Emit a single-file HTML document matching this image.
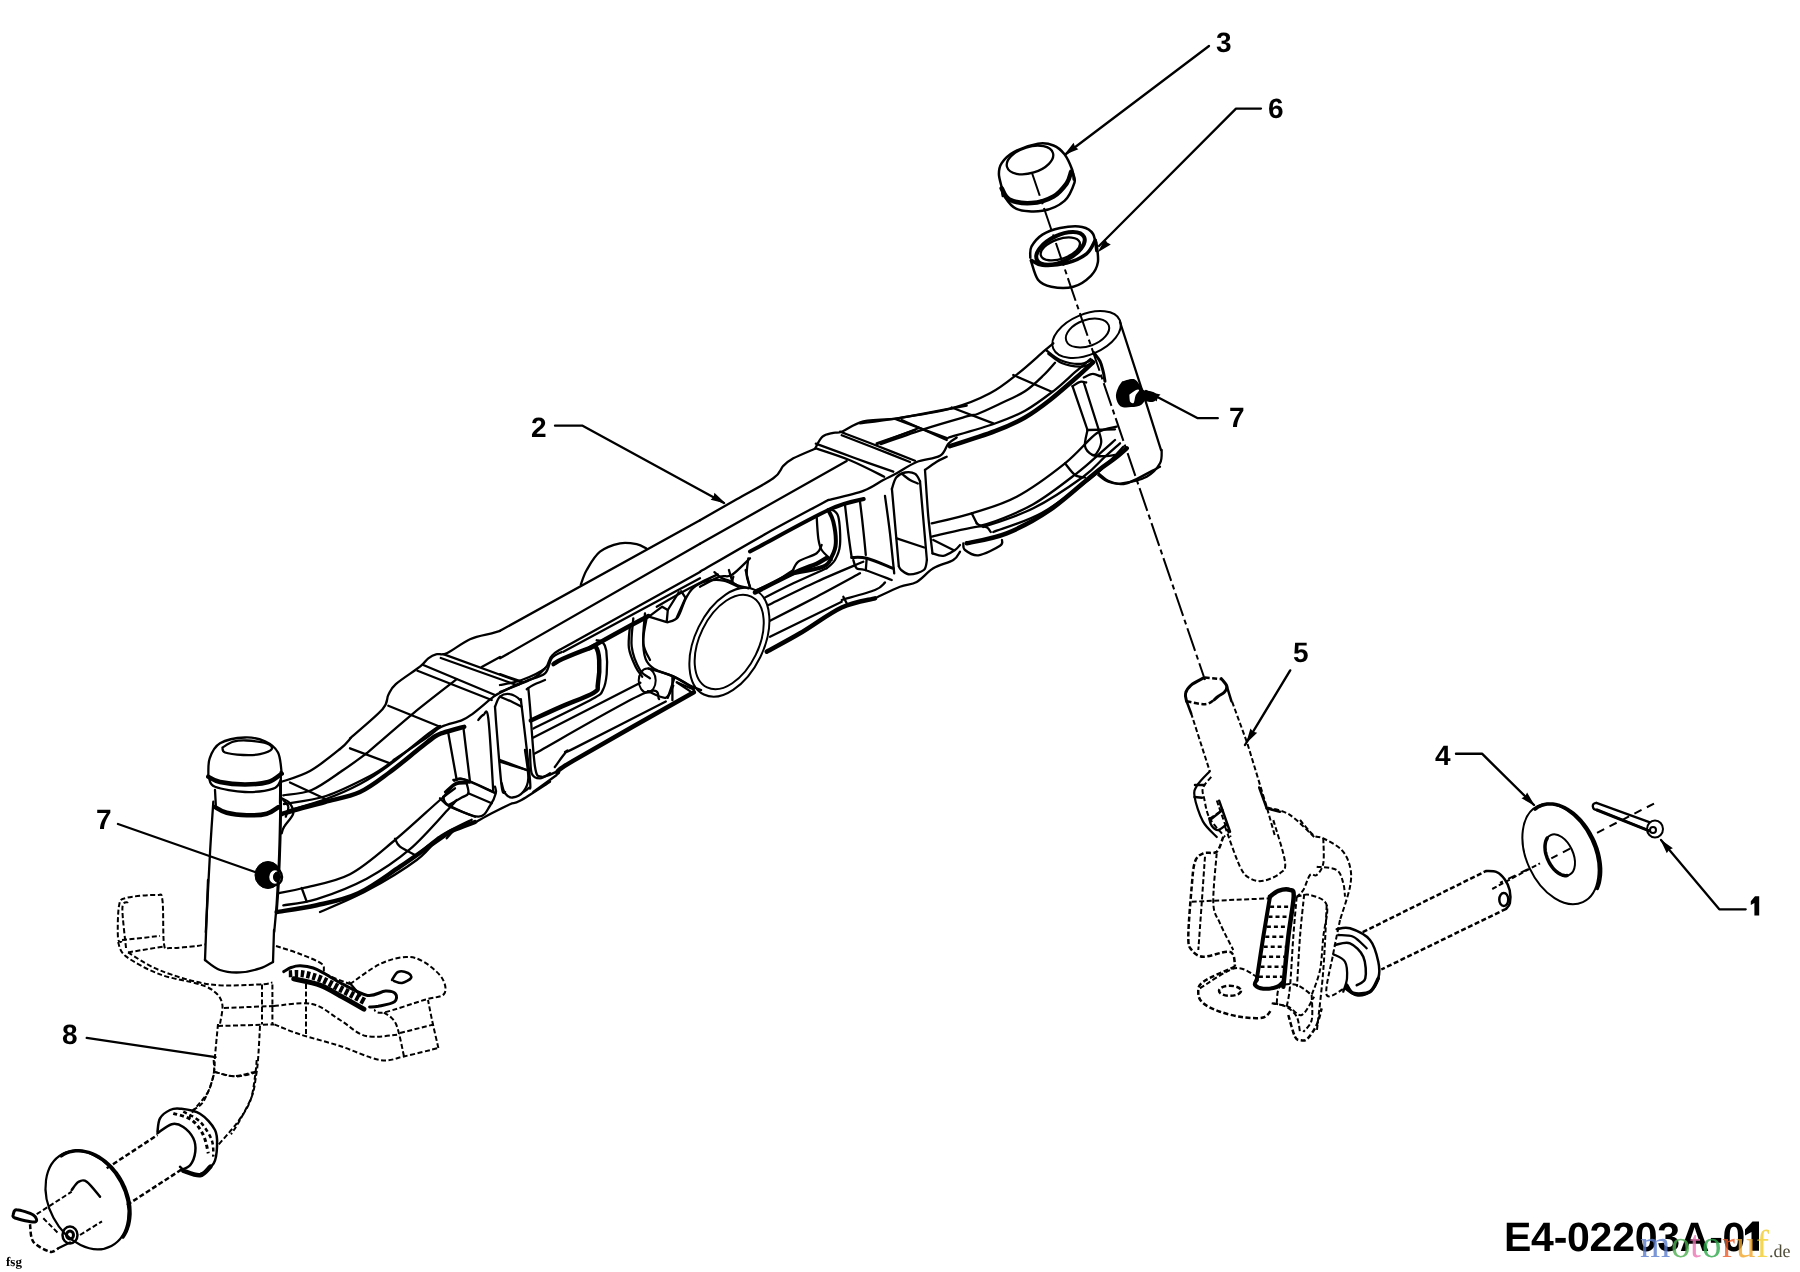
<!DOCTYPE html>
<html><head><meta charset="utf-8"><style>
html,body{margin:0;padding:0;background:#fff;width:1800px;height:1272px;overflow:hidden}
svg{display:block}
text{text-rendering:geometricPrecision}
.l{fill:none;stroke:#000;stroke-width:2.3;stroke-linecap:round;stroke-linejoin:round}
.d{fill:none;stroke:#000;stroke-width:2.3;stroke-linecap:butt}
.n{font-family:"Liberation Sans",sans-serif;font-weight:bold;font-size:28px;fill:#000}
</style></head><body>
<svg width="1800" height="1272" viewBox="0 0 1800 1272" style="will-change:transform">
<rect width="1800" height="1272" fill="#fff"/>
<g class="n">
<text x="1216" y="52">3</text>
<text x="1268" y="118">6</text>
<text x="531" y="437">2</text>
<text x="1229" y="427">7</text>
<text x="1293" y="662">5</text>
<text x="1435" y="765">4</text>
<text x="96" y="829">7</text>
<text x="62" y="1044">8</text>
</g>
<text x="1504" y="1251" style="letter-spacing:-0.25px;font-family:'Liberation Sans',sans-serif;font-weight:bold;font-size:41px;fill:#000">E4-02203A-0</text>
<text x="6" y="1266" style="font-family:'Liberation Serif',serif;font-weight:bold;font-size:13px;fill:#000">fsg</text>
<path class="l" d="M1209,46 L1066,154" />
<path d="M1064.0,155.0 L1073.6,142.8 L1075.0,146.7 L1078.4,149.2 Z" fill="#000"/>
<path class="l" d="M1261,108.6 L1236,108.6 L1099,246" />
<path d="M1097.5,252.5 L1105.0,238.9 L1107.1,242.6 L1110.8,244.5 Z" fill="#000"/>
<path class="l" d="M555,425.7 L582.6,425.7 L724,503" />
<path d="M725.7,503.5 L710.6,499.8 L713.6,496.9 L714.4,492.8 Z" fill="#000"/>
<path class="l" d="M1217.8,418.2 L1197.8,418.2 L1146,391" />
<path d="M1145.3,391.1 L1160.5,394.4 L1157.6,397.4 L1156.8,401.5 Z" fill="#000"/>
<path class="l" d="M1290.2,670.4 L1245,745" style="stroke-width:2.4;"/>
<path class="l" d="M1456,753.7 L1482,753.7 L1534,805" style="stroke-width:2.4;"/>
<path d="M1535.0,806.0 L1521.5,798.3 L1525.2,796.3 L1527.1,792.6 Z" fill="#000"/>
<path class="l" d="M1745.7,909.3 L1719.3,909.3 L1661,840" />
<path d="M1660.2,839.3 L1672.9,848.2 L1669.1,849.8 L1666.8,853.3 Z" fill="#000"/>
<path class="l" d="M118,824 L255,872" />
<path class="l" d="M86.7,1037.8 L215.6,1057.2" />
<path d="M1754.4,896.2 L1759.2,896.2 L1759.2,915.5 L1754.4,915.5 L1754.4,903 L1750.8,905 L1750.8,901.2 L1755,896.2 Z" style="fill:#000"/>
<path d="M1751.5,1221.5 L1759,1221.5 L1759,1250.7 L1751.5,1250.7 L1751.5,1232 L1745,1235.5 L1745,1229.5 L1752.5,1221.5 Z" style="fill:#000"/>
<path class="l" d="M1001.7,187.3 C1001.3,185.1 998.9,178.1 998.9,174.1 C998.9,170.0 999.2,166.7 1001.7,163.1 C1004.2,159.4 1007.8,155.3 1013.8,152.1 C1019.9,148.8 1031.4,144.8 1038.0,143.7 C1044.7,142.6 1049.1,143.7 1053.5,145.5 C1057.9,147.2 1061.3,150.2 1064.5,154.3 C1067.6,158.3 1070.6,165.5 1072.2,169.7 C1073.7,173.9 1073.4,177.9 1073.7,179.6" style="stroke-width:2.5;"/>
<ellipse class="l" cx="1030.0" cy="160.0" rx="24.0" ry="13.0" transform="rotate(-17.0 1030.0 160.0)" style="stroke-width:2.3;fill:none;"/>
<path class="l" d="M1001.7,188.4 C1003.0,190.2 1004.5,196.9 1009.4,199.4 C1014.4,201.9 1024.1,203.6 1031.4,203.1 C1038.8,202.7 1047.6,199.8 1053.5,196.5 C1059.3,193.2 1063.7,187.4 1066.7,183.3 C1069.6,179.2 1070.3,173.8 1071.1,171.9" style="stroke-width:4.5;"/>
<path class="l" d="M1002.8,193.9 C1005.0,196.4 1009.4,205.8 1016.0,208.6 C1022.6,211.5 1034.4,212.1 1042.4,210.8 C1050.5,209.6 1059.1,205.6 1064.5,200.9 C1069.8,196.3 1072.9,187.4 1074.4,182.9 C1075.8,178.4 1073.4,175.6 1073.3,174.1" style="stroke-width:2.5;"/>
<path class="l" d="M1001.7,187.3 L1002.8,196.1" style="stroke-width:2.5;"/>
<path class="l" d="M1030.3,257.7 C1030.5,255.9 1029.4,250.6 1031.4,246.7 C1033.5,242.9 1037.7,237.7 1042.4,234.6 C1047.2,231.5 1053.5,229.3 1060.1,228.0 C1066.7,226.7 1076.6,225.9 1082.1,226.9 C1087.6,227.9 1090.7,229.9 1093.1,234.0 C1095.5,238.0 1095.8,248.3 1096.4,251.1" style="stroke-width:2.5;"/>
<ellipse class="l" cx="1060.5" cy="248.3" rx="26.2" ry="13.0" transform="rotate(-26.0 1060.5 248.3)" style="stroke-width:4;fill:none;"/>
<ellipse class="l" cx="1060.3" cy="248.9" rx="20.5" ry="9.9" transform="rotate(-19.0 1060.3 248.9)" style="stroke-width:2.3;fill:none;"/>
<path class="l" d="M1031.4,260.4 C1033.3,261.2 1036.6,264.8 1042.4,265.2 C1048.3,265.7 1059.3,264.9 1066.7,263.0 C1074.0,261.1 1081.7,257.6 1086.5,253.8 C1091.2,250.0 1093.8,242.4 1095.3,240.1" style="stroke-width:3.5;"/>
<path class="l" d="M1031.0,261.0 C1032.2,264.1 1034.7,275.4 1038.0,279.7 C1041.4,284.0 1045.4,285.6 1051.3,286.8 C1057.1,288.0 1066.7,288.6 1073.3,286.8 C1079.9,284.9 1086.8,279.9 1090.9,275.8 C1095.0,271.7 1097.0,267.7 1097.9,262.1 C1098.8,256.6 1096.6,245.6 1096.4,242.3" style="stroke-width:2.5;"/>
<path class="d" d="M1032,173 L1205,680" style="stroke-width:2;stroke-dasharray:24 4 5 4"/>
<ellipse class="l" cx="1560.5" cy="854.0" rx="34.0" ry="53.0" transform="rotate(-25.0 1560.5 854.0)" style="stroke-width:2;fill:none;"/>
<path class="l" d="M1535.1,809.2 L1537.2,807.6 L1539.5,806.3 L1541.9,805.2 L1544.5,804.5 L1547.1,804.0 L1549.9,803.9 L1552.7,804.0 L1555.6,804.5 L1558.5,805.2 L1561.5,806.3 L1564.4,807.6 L1567.4,809.2 L1570.3,811.1 L1573.1,813.2 L1575.9,815.6 L1578.7,818.2 L1581.3,821.0 L1583.8,824.1 L1586.2,827.3 L1588.4,830.6 L1590.5,834.2 L1592.4,837.8 L1594.2,841.5 L1595.7,845.3 L1597.1,849.2 L1598.2,853.0 L1599.1,856.9 L1599.8,860.8 L1600.3,864.6 L1600.6,868.4 L1600.6,872.1 L1600.4,875.6 L1599.9,879.1 L1599.3,882.4 L1598.4,885.5 L1597.3,888.4" style="stroke-width:3.5;"/>
<ellipse class="l" cx="1560.0" cy="855.0" rx="13.0" ry="22.0" transform="rotate(-25.0 1560.0 855.0)" style="stroke-width:2;fill:none;"/>
<path class="l" d="M1596.4,802.8 L1649.3,822.2 M1597,810 L1649.3,830.8 M1596.4,802.8 C1591,803 1592,810 1597,810" />
<path class="l" d="M1597,810 L1649.3,830.8" style="stroke-width:3;"/>
<ellipse class="l" cx="1655.0" cy="829.0" rx="8.0" ry="8.5" transform="rotate(0.0 1655.0 829.0)" style="stroke-width:2;fill:none;"/>
<ellipse class="l" cx="1653.0" cy="830.0" rx="3.0" ry="3.0" transform="rotate(0.0 1653.0 830.0)" style="stroke-width:2;fill:none;"/>
<path class="d" d="M1654.0,803.6 L1593.3,834.7" style="stroke-width:2;stroke-dasharray:8 6"/>
<path class="d" d="M1570.0,848.7 L1551.3,858.3" style="stroke-width:2;stroke-dasharray:8 6"/>
<path class="d" d="M1528.0,869.2 L1500.0,882.9" style="stroke-width:2;stroke-dasharray:8 6"/>
<path class="l" d="M1567.1,875.6 L1566.1,875.7 L1565.1,875.7 L1564.1,875.5 L1563.0,875.3 L1561.9,874.9 L1560.9,874.5 L1559.8,873.9 L1558.7,873.3 L1557.6,872.5 L1556.5,871.7 L1555.5,870.7 L1554.4,869.7 L1553.4,868.6 L1552.5,867.5 L1551.6,866.2 L1550.7,864.9 L1549.8,863.6 L1549.1,862.2 L1548.4,860.8 L1547.7,859.3 L1547.1,857.8 L1546.6,856.3 L1546.1,854.8 L1545.7,853.3 L1545.4,851.8 L1545.2,850.4 L1545.1,848.9 L1545.0,847.5 L1545.0,846.1 L1545.1,844.8 L1545.3,843.5 L1545.5,842.3 L1545.8,841.1 L1546.2,840.1 L1546.7,839.1 L1547.2,838.1" style="stroke-width:3.5;"/>
<path class="l" d="M700.0,520.3 C706.1,516.8 724.4,506.2 736.7,499.2 C748.9,492.2 765.6,483.9 773.3,478.3 C781.1,472.8 780.0,469.2 783.3,465.8 C786.7,462.5 788.1,461.2 793.3,458.3 C798.6,455.5 811.4,450.3 815.0,448.7" />
<path class="l" d="M815.0,448.7 C816.2,446.7 819.4,439.3 822.5,436.7 C825.6,434.0 830.1,433.7 833.3,432.8 C836.5,432.0 836.7,433.6 841.7,431.7 C846.7,429.8 854.3,423.5 863.3,421.3 C872.4,419.2 890.4,419.2 895.8,418.8" />
<path class="l" d="M895.8,418.8 L966.7,405.5" />
<path class="l" d="M700.0,543.7 L846.7,461.0" />
<path class="l" d="M815.8,443.7 C822.1,446.0 840.4,452.8 853.3,457.5 C866.2,462.2 886.7,469.3 893.3,471.7" />
<path class="l" d="M816.7,448.7 C822.2,450.6 838.8,455.7 850.0,460.3 C861.2,465.0 878.5,473.9 884.2,476.7" />
<path class="l" d="M840.0,431.7 C845.8,433.9 862.5,440.1 875.0,445.0 C887.5,449.9 908.3,458.2 915.0,460.8" />
<path class="l" d="M841.7,435.3 C846.9,437.4 861.9,443.1 873.3,447.5 C884.7,451.9 903.9,459.6 910.0,462.0" />
<path class="l" d="M876.7,444.2 L918.3,428.3" />
<path class="l" d="M901.7,420.0 L946.7,440.0" />
<path class="l" d="M700.0,571.7 C711.1,565.3 745.3,545.3 766.7,533.3 C788.1,521.4 818.1,505.6 828.3,500.0" />
<path class="l" d="M828.3,500.0 C834.2,498.5 854.2,494.2 863.3,490.8 C872.5,487.5 877.8,482.9 883.3,480.0 C888.9,477.1 891.1,476.3 896.7,473.3 C902.2,470.3 909.4,464.9 916.7,462.0 C923.9,459.1 934.7,458.9 940.0,455.8 C945.3,452.8 945.6,446.7 948.3,443.7 C951.1,440.6 955.3,438.5 956.7,437.5" />
<path class="l" d="M896.7,538.3 L924.2,547.5" />
<path class="l" d="M885.0,495.8 C885.8,502.1 888.5,520.4 890.0,533.3 C891.5,546.2 893.5,566.7 894.2,573.3" />
<path class="l" d="M925.0,470.0 C925.6,477.8 927.1,502.8 928.3,516.7 C929.6,530.6 931.8,547.2 932.5,553.3" />
<path class="l" d="M925.0,470.0 C926.9,468.6 933.1,463.9 936.7,461.7 C940.3,459.4 945.0,457.5 946.7,456.7" />
<path class="l" d="M932.5,553.3 C934.3,553.8 939.6,556.4 943.3,555.8 C947.1,555.3 952.2,551.8 955.0,550.0 C957.8,548.2 959.2,545.8 960.0,545.0" />
<path class="l" d="M750.0,551.5 C751.7,550.6 746.7,553.2 760.0,546.2 C773.3,539.1 812.7,517.2 830.0,509.3 C847.3,501.5 858.1,500.7 863.7,499.0" style="stroke-width:4;"/>
<path class="l" d="M816.7,516.7 C816.9,520.3 817.5,532.8 818.3,538.3 C819.2,543.9 819.4,546.4 821.7,550.0 C823.9,553.6 830.0,558.3 831.7,560.0" />
<path class="l" d="M828.2,510.0 C829.0,511.9 832.1,516.1 833.3,521.7 C834.6,527.2 836.1,537.5 835.8,543.3 C835.6,549.2 833.8,552.8 831.7,556.7 C829.6,560.6 829.7,563.9 823.3,566.7 C816.9,569.4 798.3,572.2 793.3,573.3" style="stroke-width:4;"/>
<path class="l" d="M830.8,509.2 C832.1,510.4 836.8,510.7 838.3,516.7 C839.9,522.6 840.6,537.8 840.0,545.0 C839.4,552.2 837.2,556.1 835.0,560.0 C832.8,563.9 828.1,566.9 826.7,568.3" />
<path class="l" d="M845.0,505.0 C845.6,509.7 847.2,524.6 848.3,533.3 C849.4,542.1 851.1,553.5 851.7,557.5" />
<path class="l" d="M860.0,501.7 C860.6,506.4 862.4,521.1 863.3,530.0 C864.3,538.9 865.4,550.8 865.8,555.0" />
<path class="l" d="M851.7,557.5 C854.2,557.6 859.7,556.5 866.7,558.3 C873.6,560.1 888.9,566.7 893.3,568.3" style="stroke-width:3;"/>
<path class="l" d="M853.3,560.0 C853.9,561.4 854.7,566.7 856.7,568.3 C858.6,570.0 859.2,568.1 865.0,570.0 C870.8,571.9 887.2,578.3 891.7,580.0" />
<path class="l" d="M866.7,558.3 L865.8,570.0" />
<path class="l" d="M700.0,586.7 C703.3,585.0 714.7,578.6 720.0,576.7 C725.3,574.7 726.7,578.1 731.7,575.0 C736.7,571.9 746.9,561.1 750.0,558.3" />
<path class="l" d="M733.3,576.7 C733.3,577.8 730.8,581.4 733.3,583.3 C735.8,585.3 745.8,587.5 748.3,588.3" />
<path class="l" d="M748.3,558.3 C748.1,561.1 746.4,570.3 746.7,575.0 C746.9,579.7 749.4,584.7 750.0,586.7" />
<path class="l" d="M891.9,488.8 L898.8,566.2" />
<path class="l" d="M891.9,488.8 C892.6,486.9 894.1,480.2 896.2,477.5 C898.4,474.8 901.9,473.1 905.0,472.5 C908.1,471.9 912.5,472.3 915.0,473.8 C917.5,475.2 919.2,480.0 920.0,481.2" />
<path class="l" d="M920.0,481.2 L926.9,560.0" />
<path class="l" d="M926.9,560.0 C926.4,561.7 926.6,567.6 923.8,570.0 C920.9,572.4 913.8,574.4 910.0,574.4 C906.2,574.4 903.1,571.4 901.2,570.0 C899.4,568.6 899.2,566.9 898.8,566.2" />
<path class="l" d="M902.5,474.4 C903.8,475.3 907.5,478.5 910.0,480.0 C912.5,481.5 916.5,482.9 917.8,483.5" />
<ellipse class="l" cx="1086.6" cy="334.5" rx="36.2" ry="20.2" transform="rotate(-23.0 1086.6 334.5)" style="stroke-width:2;fill:none;"/>
<ellipse class="l" cx="1087.5" cy="333.0" rx="22.6" ry="13.0" transform="rotate(-20.0 1087.5 333.0)" style="stroke-width:2;fill:none;"/>
<path class="l" d="M1120,322 L1143,393 L1161,450" />
<path class="l" d="M1046.0,350.0 C1048.3,351.7 1054.5,357.7 1060.0,360.0 C1065.5,362.3 1073.7,364.0 1079.0,364.0 C1084.3,364.0 1089.8,360.7 1092.0,360.0" />
<path class="l" d="M1048.3,353.7 C1050.6,355.2 1056.4,360.8 1061.7,363.0 C1066.9,365.2 1074.7,366.6 1080.0,366.7 C1085.3,366.7 1091.1,363.9 1093.3,363.3" />
<path class="l" d="M860.0,423.3 C866.1,422.5 881.4,420.8 896.7,418.3 C911.9,415.8 936.1,412.5 951.7,408.3 C967.2,404.2 978.9,399.2 990.0,393.3 C1001.1,387.5 1009.4,380.3 1018.3,373.3 C1027.2,366.4 1037.5,356.7 1043.3,351.7 C1049.2,346.7 1051.7,344.7 1053.3,343.3" />
<path class="l" d="M895.8,419.2 L947.5,438.3" />
<path class="l" d="M951.7,407.5 L993.3,423.3" />
<path class="l" d="M1013.3,375.0 L1051.7,391.7" />
<path class="l" d="M876.7,443.3 L915.0,430.0" />
<path class="l" d="M1098.3,473.3 C1100.3,474.7 1105.3,480.0 1110.0,481.7 C1114.7,483.3 1118.3,485.8 1126.7,483.3 C1135.0,480.8 1154.4,469.4 1160.0,466.7" />
<path class="l" d="M880.8,444.1 C888.1,441.6 910.5,433.4 925.0,428.8 C939.5,424.1 958.8,418.7 967.5,416.2 C976.2,413.8 972.1,416.1 977.5,414.0 C982.9,411.9 992.1,407.5 1000.0,403.8 C1007.9,400.0 1017.7,396.0 1025.0,391.2 C1032.3,386.5 1038.8,379.8 1043.8,375.0 C1048.8,370.2 1053.1,364.8 1055.0,362.8" />
<path class="l" d="M948.8,437.5 C956.5,435.2 982.3,428.0 995.0,423.5 C1007.7,419.0 1015.2,416.2 1025.0,410.8 C1034.8,405.3 1045.4,397.2 1053.8,390.8 C1062.1,384.3 1068.9,377.5 1075.0,372.2 C1081.1,367.0 1088.0,361.2 1090.6,359.0" />
<path class="l" d="M950.0,446.2 C957.5,443.8 982.5,436.0 995.0,431.2 C1007.5,426.5 1015.8,422.7 1025.0,417.5 C1034.2,412.3 1041.7,406.5 1050.0,400.0 C1058.3,393.5 1067.8,385.0 1075.0,378.8 C1082.2,372.5 1090.1,365.0 1093.1,362.2" style="stroke-width:4.5;"/>
<path class="l" d="M1072.5,386.2 L1087.5,430.0" />
<path class="l" d="M1083.8,382.5 L1098.8,430.0" />
<path class="l" d="M1072.5,386.2 C1073.8,385.5 1077.7,382.5 1080.0,381.9 C1082.3,381.2 1085.2,382.4 1086.2,382.5" />
<path class="l" d="M1093.8,352.5 C1094.8,354.0 1098.4,358.1 1100.0,361.2 C1101.6,364.4 1102.3,367.9 1103.1,371.2 C1104.0,374.6 1104.7,379.6 1105.0,381.2" style="stroke-width:3;"/>
<path class="l" d="M1083.8,377.5 C1085.2,376.9 1089.8,374.0 1092.5,373.8 C1095.2,373.5 1098.8,375.8 1100.0,376.2" />
<path class="l" d="M1087.5,430.0 L1115.0,429.4" />
<path class="l" d="M1087.5,430.0 C1087.1,432.7 1084.2,442.1 1085.0,446.2 C1085.8,450.4 1089.6,453.3 1092.5,455.0 C1095.4,456.7 1098.8,456.2 1102.5,456.2 C1106.2,456.2 1112.9,455.2 1115.0,455.0" />
<path class="l" d="M1098.8,431.2 C1099.2,433.1 1101.7,438.8 1101.2,442.5 C1100.8,446.2 1097.7,451.7 1096.2,453.8 C1094.8,455.8 1093.1,454.8 1092.5,455.0" />
<path class="l" d="M500.0,630.8 L700.0,520.3" />
<path class="l" d="M580.8,584.7 C581.8,582.2 583.5,575.5 586.7,570.0 C589.9,564.5 594.4,556.1 600.0,551.7 C605.6,547.2 613.9,544.6 620.0,543.3 C626.1,542.1 632.2,543.3 636.7,544.2 C641.1,545.1 645.0,547.9 646.7,548.7" />
<path class="l" d="M500.0,658.3 L700.0,543.7" />
<path class="l" d="M500.0,685.0 C503.6,684.2 514.2,682.8 521.7,680.0 C529.2,677.2 539.9,672.5 545.0,668.3 C550.1,664.2 547.1,659.7 552.5,655.0 C557.9,650.3 552.9,653.8 577.5,640.0 C602.1,626.2 679.6,583.3 700.0,572.0" />
<path class="l" d="M563.3,651.7 L700.0,578.3" />
<path class="l" d="M500.0,674.2 L521.7,681.7" />
<path class="l" d="M500.0,692.0 C505.6,689.7 525.8,682.3 533.3,678.3 C540.8,674.4 543.1,670.0 545.0,668.3" />
<ellipse class="l" cx="729.4" cy="642.2" rx="34.3" ry="58.2" transform="rotate(26.0 729.4 642.2)" style="stroke-width:2;fill:none;"/>
<ellipse class="l" cx="729.2" cy="642.0" rx="29.5" ry="50.5" transform="rotate(26.0 729.2 642.0)" style="stroke-width:2;fill:none;"/>
<path class="l" d="M737.8,586.7 C735.4,585.6 728.5,581.5 723.3,580.6 C718.1,579.6 711.7,579.9 706.7,581.1 C701.7,582.3 696.9,584.8 693.3,587.8 C689.8,590.7 688.1,594.0 685.6,598.9 C683.0,603.8 680.7,613.3 677.8,617.2 C674.8,621.1 669.4,621.4 667.8,622.2" />
<path class="l" d="M648.9,616.7 L662.2,606.7 L667.8,610.0 L666.7,622.2 L648.9,616.7" />
<path class="l" d="M667.8,610.0 L678.9,592.2" />
<path class="l" d="M676.7,617.8 L685.6,597.8" />
<path class="l" d="M681.1,591.1 L685.6,597.8" />
<path class="l" d="M656.7,606.7 C660.4,604.5 671.5,598.0 678.9,593.9 C686.3,589.8 694.6,585.5 701.1,582.2 C707.6,579.0 715.0,575.7 717.8,574.4" />
<path class="l" d="M714.4,572.2 C715.6,573.1 718.5,576.3 721.1,577.8 C723.7,579.3 727.0,579.6 730.0,581.1 C733.0,582.6 737.4,585.7 738.9,586.7" />
<path class="l" d="M728.9,570.0 L732.2,581.1" />
<path class="l" d="M745.6,570.0 L750.0,587.8" />
<path class="l" d="M646.7,617.8 C646.1,621.3 643.5,632.0 643.3,638.9 C643.1,645.7 643.7,653.9 645.6,658.9 C647.4,663.9 649.6,665.9 654.4,668.9 C659.3,671.9 668.5,673.9 674.4,676.7 C680.4,679.4 685.6,683.3 690.0,685.6 C694.4,687.8 699.3,689.3 701.1,690.0" />
<path class="l" d="M630.0,625.6 C629.8,629.3 628.0,640.9 628.9,647.8 C629.8,654.6 633.3,661.9 635.6,666.7 C637.8,671.5 641.1,675.0 642.2,676.7" />
<ellipse class="l" cx="647.2" cy="680.6" rx="8.5" ry="12.0" transform="rotate(0.0 647.2 680.6)" style="stroke-width:2;fill:none;"/>
<path class="l" d="M647.8,691.1 C650.7,692.2 661.3,698.7 665.6,697.8 C669.8,696.9 672.0,687.6 673.3,685.6" />
<path class="l" d="M674.4,677.8 L667.8,697.8" />
<path class="l" d="M676.7,682.2 L690.0,691.1" />
<path class="l" d="M350.0,738.3 C355.4,733.5 376.1,716.4 382.5,709.2 C388.9,701.9 386.1,699.2 388.3,695.0 C390.6,690.8 390.6,688.9 395.8,684.2 C401.1,679.4 414.6,671.0 420.0,666.7 C425.4,662.4 425.6,660.4 428.3,658.3 C431.1,656.2 433.6,655.0 436.7,654.2 C439.7,653.3 441.1,655.8 446.7,653.3 C452.2,650.8 462.5,642.5 470.0,639.2 C477.5,635.8 486.7,634.7 491.7,633.3 C496.7,631.9 498.6,631.2 500.0,630.8" />
<path class="l" d="M481.7,667.0 L500.0,657.0" />
<path class="l" d="M443.3,654.2 L520.0,682.0" />
<path class="l" d="M440.8,658.0 L516.7,685.0" />
<path class="l" d="M423.3,665.0 L495.0,695.0" />
<path class="l" d="M417.5,670.8 L491.7,700.0" />
<path class="l" d="M388.3,705.8 L440.0,726.7" />
<path class="l" d="M366.7,753.3 C374.4,746.7 398.3,725.7 413.3,713.3 C428.3,701.0 449.4,684.9 456.7,679.2" />
<path class="l" d="M350.0,748.3 L390.0,763.3" />
<path class="l" d="M518.3,684.7 C519.7,684.0 522.2,682.7 526.7,680.8 C531.1,678.9 540.8,677.1 545.0,673.3 C549.2,669.6 548.9,661.9 551.7,658.3 C554.4,654.8 560.0,653.1 561.7,652.0" />
<path class="l" d="M528.3,688.3 C528.6,691.4 528.9,693.6 530.0,706.7 C531.1,719.7 533.1,755.0 535.0,766.7 C536.9,778.3 538.1,775.8 541.7,776.7 C545.3,777.5 554.2,772.5 556.7,771.7" />
<path class="l" d="M526.7,689.2 C527.8,688.5 530.3,686.5 533.3,685.0 C536.4,683.5 543.1,680.8 545.0,680.0" />
<path class="l" d="M633.3,618.3 C633.1,623.1 630.6,638.1 631.7,646.7 C632.8,655.3 636.9,664.7 640.0,670.0 C643.1,675.3 648.3,676.9 650.0,678.3" />
<path class="l" d="M645.0,613.3 C644.7,618.3 642.5,635.6 643.3,643.3 C644.2,651.1 648.9,657.2 650.0,660.0" />
<path class="l" d="M495.0,706.7 C495.8,705.0 497.5,698.8 500.0,696.7 C502.5,694.6 506.7,693.6 510.0,694.2 C513.3,694.7 518.1,697.9 520.0,700.0 C521.9,702.1 520.0,693.3 521.7,706.7 C523.3,720.0 528.9,766.4 530.0,780.0 C531.1,793.6 529.4,786.3 528.3,788.3 C527.2,790.3 524.2,791.4 523.3,792.0" />
<path class="l" d="M495.0,706.7 C495.3,710.6 495.6,716.7 496.7,730.0 C497.8,743.3 500.3,776.3 501.7,786.7 C503.1,797.0 504.4,791.1 505.0,792.0" />
<path class="l" d="M500.0,760.0 L526.7,770.0" />
<path class="l" d="M500.0,696.7 C502.2,697.6 509.7,700.8 513.3,702.5 C516.9,704.2 520.3,706.0 521.7,706.7" />
<path class="l" d="M448.3,733.3 L456.7,780.0" />
<path class="l" d="M463.3,726.7 L470.0,781.7" />
<path class="l" d="M478.3,720.0 C479.2,719.2 481.7,715.3 483.3,715.0 C485.0,714.7 486.7,705.5 488.3,718.3 C490.0,731.2 492.5,779.7 493.3,792.0" />
<path class="l" d="M453.3,780.0 C455.6,780.0 460.0,778.0 466.7,780.0 C473.3,782.0 488.9,790.0 493.3,792.0" />
<path class="l" d="M445.0,792.0 C446.9,790.4 452.5,784.1 456.7,782.5 C460.8,780.9 467.8,782.5 470.0,782.5" />
<path class="l" d="M533.3,792.0 L556.7,775.0" />
<path class="l" d="M283.3,795.3 C288.1,794.4 301.7,794.2 311.7,790.0 C321.7,785.8 334.2,776.1 343.3,770.0 C352.5,763.9 362.8,756.1 366.7,753.3" />
<path class="l" d="M290.0,782.5 L325.0,798.7" />
<path class="l" d="M281.7,798.3 C282.9,799.0 287.2,800.0 289.2,802.5 C291.1,805.0 294.2,809.3 293.3,813.3 C292.5,817.4 286.1,823.3 284.2,826.7 C282.2,830.0 282.1,832.2 281.7,833.3" />
<path class="l" d="M283.3,800.0 C284.2,801.1 287.9,803.9 288.3,806.7 C288.8,809.4 286.2,815.0 285.8,816.7" />
<path class="l" d="M280.8,771.7 C280.8,779.2 281.0,803.6 280.8,816.7 C280.7,829.7 280.4,838.9 280.0,850.0 C279.6,861.1 279.2,873.0 278.7,883.3 C278.1,893.7 277.0,907.2 276.7,912.0" />
<path class="l" d="M278.3,893.3 C282.5,892.4 291.4,891.2 303.3,888.0 C315.3,884.8 334.7,882.2 350.0,874.2 C365.3,866.2 380.0,852.4 395.0,840.0 C410.0,827.6 430.0,808.6 440.0,800.0 C450.0,791.4 452.5,790.3 455.0,788.3" />
<path class="l" d="M283.3,905.3 C288.9,904.3 302.8,903.6 316.7,899.2 C330.6,894.7 351.1,887.0 366.7,878.7 C382.2,870.3 396.2,860.9 410.0,849.2 C423.8,837.4 441.4,816.5 449.2,808.3 C456.9,800.1 455.4,801.4 456.7,800.0" />
<path class="l" d="M276.7,912.0 C283.3,910.9 303.1,908.4 316.7,905.3 C330.3,902.2 344.4,899.8 358.3,893.3 C372.2,886.9 386.1,876.0 400.0,866.7 C413.9,857.4 432.8,843.6 441.7,837.5 C450.6,831.4 447.8,832.9 453.3,830.3 C458.9,827.8 471.4,823.4 475.0,822.0" style="stroke-width:4.5;"/>
<path class="l" d="M320.0,912.0 C327.8,908.5 350.6,899.5 366.7,890.8 C382.8,882.2 404.7,868.9 416.7,860.0 C428.6,851.1 434.7,841.2 438.3,837.5" />
<path class="l" d="M301.7,888.0 L306.7,901.7" />
<path class="l" d="M395.0,838.7 C395.8,840.0 396.4,843.8 400.0,846.7 C403.6,849.5 413.9,854.3 416.7,855.8" />
<path class="l" d="M440.0,798.3 C441.7,799.7 444.2,803.6 450.0,806.7 C455.8,809.7 470.8,815.0 475.0,816.7" />
<path class="l" d="M416.7,855.0 C420.8,851.7 432.5,841.2 441.7,835.3 C450.8,829.4 466.7,822.3 471.7,819.7" />
<path class="l" d="M446.7,838.3 L453.3,830.8" />
<path class="l" d="M454.2,780.8 C455.1,780.4 457.4,778.2 460.0,778.3 C462.6,778.5 464.2,779.2 470.0,781.7 C475.8,784.1 490.8,791.1 495.0,793.0" />
<path class="l" d="M443.3,796.7 C445.3,794.7 451.1,787.2 455.0,785.0 C458.9,782.8 464.7,783.6 466.7,783.3" />
<path class="l" d="M443.3,796.7 C444.2,798.1 442.5,801.7 448.3,805.0 C454.2,808.3 471.4,816.5 478.3,816.7 C485.3,816.8 487.1,809.7 490.0,805.8 C492.9,801.9 495.0,796.5 495.8,793.3 C496.7,790.1 495.1,787.8 495.0,786.7" />
<path class="l" d="M466.7,783.3 C466.9,785.0 469.2,791.0 468.3,793.3 C467.5,795.7 465.0,795.6 461.7,797.5 C458.3,799.4 450.6,803.8 448.3,805.0" />
<path class="l" d="M468.3,793.3 L491.7,803.3" />
<path class="l" d="M501.7,783.3 C502.2,785.0 503.2,791.0 505.0,793.3 C506.8,795.7 509.4,797.8 512.5,797.5 C515.6,797.2 520.7,794.9 523.3,791.7 C526.0,788.5 528.1,785.3 528.3,778.3 C528.6,771.4 525.6,754.7 525.0,750.0" />
<path class="l" d="M500.0,761.7 L526.7,770.0" />
<path class="l" d="M530.0,750.0 C530.3,753.9 530.0,768.6 531.7,773.3 C533.3,778.1 536.9,778.3 540.0,778.3 C543.1,778.3 548.3,774.2 550.0,773.3" />
<path class="l" d="M476.7,821.7 C479.2,820.3 486.1,816.2 491.7,813.3 C497.2,810.4 505.3,806.2 510.0,804.2 C514.7,802.1 513.3,804.6 520.0,800.8 C526.7,797.1 545.0,784.9 550.0,781.7" />
<ellipse class="l" cx="268.0" cy="875.0" rx="13.0" ry="13.5" transform="rotate(0.0 268.0 875.0)" style="stroke-width:1;fill:#000;"/>
<ellipse class="l" cx="275.0" cy="877.0" rx="7.0" ry="8.0" transform="rotate(0.0 275.0 877.0)" style="stroke-width:2.5;fill:#fff;stroke:#000"/>
<ellipse class="l" cx="277.0" cy="877.0" rx="3.5" ry="5.0" transform="rotate(0.0 277.0 877.0)" style="stroke-width:1;fill:#000;"/>
<path class="l" d="M281.0,782.0 C285.8,780.2 300.2,776.5 310.0,771.0 C319.8,765.5 333.2,754.5 340.0,749.0 C346.8,743.5 348.8,740.1 350.5,738.3" />
<path class="l" d="M284.0,804.0 C291.0,802.7 311.7,800.7 326.0,796.0 C340.3,791.3 358.8,781.8 370.0,776.0 C381.2,770.2 389.2,763.5 393.0,761.0" />
<path class="l" d="M290.0,810.0 C296.0,808.2 314.3,803.3 326.0,799.0 C337.7,794.7 349.7,789.5 360.0,784.0 C370.3,778.5 376.7,774.3 388.0,766.0 C399.3,757.7 419.3,740.7 428.0,734.0 C436.7,727.3 438.0,727.3 440.0,726.0" />
<path class="l" d="M282.0,814.0 C284.2,813.3 287.8,812.0 295.0,810.0 C302.2,808.0 314.2,805.0 325.0,802.0 C335.8,799.0 349.2,797.0 360.0,792.0 C370.8,787.0 380.0,779.3 390.0,772.0 C400.0,764.7 412.5,753.9 420.0,748.0 C427.5,742.1 431.0,739.0 434.8,736.5 C438.6,734.0 438.0,734.4 442.9,732.8 C447.8,731.2 460.6,727.8 464.2,726.8" style="stroke-width:4.5;"/>
<path class="l" d="M393.4,760.2 C399.0,756.4 418.8,743.1 426.8,737.5 C434.8,731.9 435.7,729.7 441.5,726.8 C447.3,724.0 456.4,722.5 461.6,720.4 C466.7,718.3 466.9,718.1 472.3,714.1 C477.6,710.2 488.7,700.4 493.6,696.7 C498.5,693.1 497.6,694.2 501.7,692.1 C505.7,690.0 515.0,685.4 517.7,684.1" />
<path class="l" d="M755.0,590.8 C758.3,589.3 768.6,585.1 775.0,581.7 C781.4,578.2 790.3,571.9 793.3,570.0" />
<path class="l" d="M755.0,592.5 C761.4,589.3 783.1,578.1 793.3,573.3 C803.6,568.5 811.1,566.2 816.7,563.7 C822.2,561.1 825.0,558.9 826.7,558.0" style="stroke-width:4.5;"/>
<path class="l" d="M791.7,573.3 C792.8,571.4 794.2,565.0 798.3,561.7 C802.5,558.3 812.8,556.1 816.7,553.3 C820.6,550.6 820.8,546.4 821.7,545.0" />
<path class="l" d="M765.0,597.5 C769.7,595.1 783.1,588.2 793.3,583.3 C803.6,578.5 821.1,570.8 826.7,568.3" />
<path class="l" d="M768.3,605.0 C776.4,601.1 800.8,588.9 816.7,581.7 C832.5,574.4 855.6,565.0 863.3,561.7" />
<path class="l" d="M770.0,620.8 C777.8,616.8 801.7,604.6 816.7,596.7 C831.7,588.8 852.8,577.2 860.0,573.3" />
<path class="l" d="M770.0,636.7 L841.7,601.7" />
<path class="l" d="M766.7,651.7 C772.2,648.6 787.5,640.7 800.0,633.3 C812.5,626.0 829.2,613.3 841.7,607.5 C854.2,601.7 869.4,599.9 875.0,598.3" style="stroke-width:4.5;"/>
<path class="l" d="M841.7,600.0 C847.2,598.3 867.8,592.9 875.0,590.0 C882.2,587.1 883.3,583.8 885.0,582.5" />
<path class="l" d="M875.0,598.3 C879.2,596.4 893.1,589.4 900.0,586.7 C906.9,583.9 911.1,585.1 916.7,582.0 C922.2,578.9 927.2,572.0 933.3,568.3 C939.4,564.7 948.9,562.8 953.3,560.0 C957.8,557.2 958.9,553.1 960.0,551.7" />
<path class="l" d="M843.3,596.7 L846.7,603.3" />
<path class="l" d="M931.7,523.3 C938.3,521.7 957.5,517.8 971.7,513.3 C985.8,508.9 1001.1,505.0 1016.7,496.7 C1032.2,488.3 1051.7,473.9 1065.0,463.3 C1078.3,452.8 1088.1,439.4 1096.7,433.3 C1105.3,427.2 1113.3,427.8 1116.7,426.7" />
<path class="l" d="M971.7,513.3 L976.7,523.3" />
<path class="l" d="M976.7,523.3 C978.3,523.5 977.2,527.4 986.7,524.2 C996.1,521.0 1018.3,512.6 1033.3,504.2 C1048.3,495.7 1065.6,481.8 1076.7,473.3 C1087.8,464.9 1093.6,458.9 1100.0,453.3 C1106.4,447.8 1112.5,442.2 1115.0,440.0" />
<path class="l" d="M983.3,527.0 C991.7,523.9 1016.7,516.7 1033.3,508.3 C1050.0,499.9 1071.4,485.3 1083.3,476.7 C1095.3,468.1 1098.9,462.2 1105.0,456.7 C1111.1,451.1 1117.5,445.6 1120.0,443.3" />
<path class="l" d="M993.3,532.0 C1001.4,528.8 1025.3,522.1 1041.7,513.0 C1058.1,503.9 1080.3,486.2 1091.7,477.5 C1103.1,468.8 1104.7,466.0 1110.0,460.8 C1115.3,455.7 1121.1,449.0 1123.3,446.7" />
<path class="l" d="M966.7,543.3 C973.3,541.7 992.8,538.9 1006.7,533.3 C1020.6,527.8 1035.0,520.3 1050.0,510.0 C1065.0,499.7 1085.8,480.3 1096.7,471.7 C1107.5,463.1 1110.0,462.2 1115.0,458.3 C1120.0,454.4 1124.7,450.0 1126.7,448.3" style="stroke-width:4.5;"/>
<path class="l" d="M1065.0,463.3 C1066.7,465.3 1071.7,472.6 1075.0,475.0 C1078.3,477.4 1083.3,477.1 1085.0,477.5" />
<path class="l" d="M963.3,543.3 C963.6,544.4 962.5,548.0 965.0,550.0 C967.5,552.0 972.5,556.0 978.3,555.3 C984.2,554.6 996.1,548.4 1000.0,545.8 C1003.9,543.3 1001.7,541.0 1002.0,540.0" />
<path class="l" d="M931.7,536.7 C939.7,534.9 970.1,527.1 980.0,526.3 C989.9,525.6 989.0,531.1 990.8,532.0" />
<path class="l" d="M933.3,540.0 L953.3,550.0" />
<path class="l" d="M1098.3,475.0 C1100.0,476.1 1104.4,480.3 1108.3,481.7 C1112.2,483.1 1115.3,484.2 1121.7,483.3 C1128.1,482.5 1140.3,480.0 1146.7,476.7 C1153.1,473.3 1157.5,467.8 1160.0,463.3 C1162.5,458.9 1161.4,452.2 1161.7,450.0" />
<path class="l" d="M530.8,720.5 C535.7,718.3 549.7,711.7 560.2,707.1 C570.6,702.5 587.3,696.7 593.6,692.8 C599.9,689.0 596.9,689.6 597.9,684.1 C598.8,678.7 599.6,666.3 599.2,660.1 C598.8,653.9 597.2,648.7 595.6,646.7 C594.0,644.7 595.0,646.1 589.6,648.1 C584.1,650.1 568.9,656.1 562.9,658.8 C556.8,661.4 555.1,663.2 553.5,664.1" style="stroke-width:4.5;"/>
<path class="l" d="M589.6,648.1 C596.5,644.3 621.2,630.7 631.0,625.3 C640.8,620.0 645.5,617.6 648.4,616.0" style="stroke-width:4.5;"/>
<path class="l" d="M533.5,728.5 C543.3,723.6 580.7,705.6 592.3,699.1 C603.8,692.7 600.5,693.9 602.9,689.8 C605.4,685.6 606.1,680.5 606.7,674.0 C607.2,667.5 607.0,655.9 606.3,650.6 C605.6,645.3 604.0,643.6 602.4,641.9 C600.8,640.2 597.6,640.6 596.7,640.3" />
<path class="l" d="M533.5,737.6 L640.4,682.8" />
<path class="l" d="M534.8,753.6 C552.8,743.7 622.3,702.9 643.0,693.8 C663.7,684.7 656.4,698.2 659.1,699.1" />
<path class="l" d="M554.8,767.0 C556.8,764.4 563.7,754.3 566.9,751.2 C570.0,748.2 557.1,756.8 573.5,748.6 C590.0,740.3 650.4,709.4 665.8,701.5" />
<path class="l" d="M557.5,772.6 C560.2,770.6 550.8,774.0 573.5,760.6 C596.3,747.2 673.8,703.6 693.8,692.2" style="stroke-width:4.5;"/>
<path class="l" d="M648.4,668.4 C652.4,669.7 664.9,672.8 672.4,676.1 C680.0,679.5 690.3,686.4 693.8,688.4" />
<path class="l" d="M672.4,676.1 L672.4,700.2" />
<path class="l" d="M677.8,682.8 L693.8,689.5" />
<path class="l" d="M208.3,775.8 C208.6,772.9 207.7,763.8 209.7,758.3 C211.6,752.9 214.1,746.8 220.0,743.3 C225.9,739.9 237.5,737.8 245.0,737.5 C252.5,737.2 259.5,738.8 265.0,741.3 C270.5,743.8 275.2,747.2 278.0,752.5 C280.8,757.8 281.1,769.9 281.7,773.3" />
<path class="l" d="M222.5,747.5 C224.3,746.5 229.3,742.8 233.3,741.7 C237.4,740.5 241.1,740.2 246.7,740.5 C252.2,740.8 262.5,741.9 266.7,743.3 C270.8,744.8 272.8,747.4 271.7,749.2 C270.6,751.0 264.7,753.2 260.0,754.2 C255.3,755.1 249.2,755.3 243.3,755.0 C237.5,754.7 228.5,753.8 225.0,752.5 C221.5,751.2 222.9,748.3 222.5,747.5" />
<path class="l" d="M208.3,776.7 C210.3,777.6 213.9,780.7 220.0,782.0 C226.1,783.3 236.9,784.5 245.0,784.5 C253.1,784.5 262.2,783.8 268.3,782.0 C274.4,780.2 279.4,775.1 281.7,773.7" style="stroke-width:4.5;"/>
<path class="l" d="M209.2,778.7 C210.1,780.0 209.0,784.4 215.0,786.7 C221.0,788.9 235.3,791.7 245.0,792.0 C254.7,792.3 267.4,790.7 273.3,788.7 C279.3,786.7 279.6,781.4 280.8,780.0" />
<path class="l" d="M215.0,790.0 L215.8,805.0" />
<path class="l" d="M280.3,783.3 L280.0,803.3" />
<path class="l" d="M215.0,807.0 C216.9,808.0 221.4,811.4 226.7,812.8 C231.9,814.2 240.0,815.2 246.7,815.3 C253.3,815.5 261.3,815.1 266.7,813.7 C272.0,812.3 276.7,808.1 278.7,807.0" style="stroke-width:4.5;"/>
<path class="l" d="M213.3,801.7 C212.8,810.3 211.2,831.6 210.0,853.3 C208.8,875.1 206.5,918.9 205.8,932.0" />
<path class="l" d="M280.8,781.7 C280.6,793.6 279.9,833.1 279.2,853.3 C278.5,873.6 277.5,890.2 276.7,903.3 C275.8,916.4 274.6,927.2 274.2,932.0" />
<path class="l" d="M208.0,880.0 L205.0,960.0" />
<path class="l" d="M205.0,960.0 C207.5,961.7 214.2,967.9 220.0,970.0 C225.8,972.1 233.3,972.7 240.0,972.4 C246.7,972.1 254.5,970.1 260.0,968.4 C265.5,966.7 270.8,963.1 273.0,962.0" />
<path class="d" d="M122.0,942.0 C121.3,941.3 118.5,944.0 118.0,938.0 C117.5,932.0 117.7,912.7 119.0,906.0 C120.3,899.3 119.8,899.8 126.0,898.0 C132.2,896.2 149.9,894.7 156.0,895.0 C162.1,895.3 161.1,891.8 162.4,900.0 C163.7,908.2 162.7,936.0 164.0,944.0 C165.3,952.0 164.7,947.7 170.0,948.0 C175.3,948.3 190.2,946.6 196.0,946.0 C201.8,945.4 203.5,944.7 205.0,944.4" style="stroke-width:2;stroke-dasharray:5 2.5"/>
<path class="d" d="M126.0,948.0 C125.4,941.3 122.1,915.7 122.4,908.0 C122.7,900.3 127.1,903.0 128.0,902.0" style="stroke-width:2;stroke-dasharray:5 2.5"/>
<path class="d" d="M122.0,940.0 L160.0,936.0" style="stroke-width:2;stroke-dasharray:5 2.5"/>
<path class="d" d="M128.0,952.4 L164.0,946.4" style="stroke-width:2;stroke-dasharray:5 2.5"/>
<path class="d" d="M118.0,942.0 C119.3,944.4 119.0,951.0 126.0,956.4 C133.0,961.8 147.7,969.7 160.0,974.4 C172.3,979.1 190.7,981.3 200.0,984.4 C209.3,987.5 212.3,989.6 216.0,993.0 C219.7,996.4 221.7,999.8 222.4,1005.0 C223.1,1010.2 220.4,1020.8 220.0,1024.0" style="stroke-width:2;stroke-dasharray:5 2.5"/>
<path class="d" d="M128.0,952.4 C133.3,955.4 146.3,965.1 160.0,970.4 C173.7,975.7 193.3,982.1 210.0,984.4 C226.7,986.7 249.6,984.7 260.0,984.4 C270.4,984.1 270.3,982.7 272.4,982.4" style="stroke-width:2;stroke-dasharray:5 2.5"/>
<path class="d" d="M218.0,1024.0 C217.5,1029.3 215.7,1048.0 215.0,1056.0 C214.3,1064.0 215.2,1066.0 214.0,1072.0 C212.8,1078.0 211.3,1085.7 208.0,1092.0 C204.7,1098.3 197.3,1105.3 194.0,1110.0 C190.7,1114.7 189.0,1118.3 188.0,1120.0" style="stroke-width:2;stroke-dasharray:5 2.5"/>
<path class="d" d="M260.0,1026.0 C259.7,1031.7 258.7,1051.7 258.0,1060.0 C257.3,1068.3 257.0,1070.0 256.0,1076.0 C255.0,1082.0 254.7,1088.7 252.0,1096.0 C249.3,1103.3 243.5,1113.6 240.0,1120.0 C236.5,1126.4 232.5,1132.0 231.0,1134.4" style="stroke-width:2;stroke-dasharray:5 2.5"/>
<path class="d" d="M215.0,1072.0 C218.5,1072.7 229.2,1076.3 236.0,1076.4 C242.8,1076.5 252.7,1073.1 256.0,1072.4" style="stroke-width:2;stroke-dasharray:5 2.5"/>
<path class="d" d="M224.0,1008.0 L274.0,1006.0" style="stroke-width:2;stroke-dasharray:5 2.5"/>
<path class="d" d="M218.0,1026.0 L274.0,1024.4" style="stroke-width:2;stroke-dasharray:5 2.5"/>
<path class="d" d="M262.0,984.4 L262.0,1024.4" style="stroke-width:2;stroke-dasharray:5 2.5"/>
<path class="d" d="M272.4,984.4 L272.4,1024.4" style="stroke-width:2;stroke-dasharray:5 2.5"/>
<path class="d" d="M276.0,946.0 C280.0,947.3 292.3,951.0 300.0,954.0 C307.7,957.0 317.7,960.7 322.0,964.0 C326.3,967.3 321.3,970.7 326.0,974.0 C330.7,977.3 346.0,982.3 350.0,984.0" style="stroke-width:2;stroke-dasharray:5 2.5"/>
<path class="d" d="M350.0,984.0 C355.0,980.7 370.7,968.5 380.0,964.0 C389.3,959.5 398.7,957.3 406.0,957.0 C413.3,956.7 418.0,958.5 424.0,962.0 C430.0,965.5 438.7,972.7 442.0,978.0 C445.3,983.3 447.0,990.3 444.0,994.0 C441.0,997.7 434.0,996.9 424.0,1000.0 C414.0,1003.1 392.3,1010.7 384.0,1012.4 C375.7,1014.1 375.7,1010.4 374.0,1010.0" style="stroke-width:2;stroke-dasharray:5 2.5"/>
<path class="l" d="M392.0,980.0 C393.0,978.7 395.3,973.2 398.0,972.0 C400.7,970.8 405.8,972.0 408.0,973.0 C410.2,974.0 412.0,976.3 411.0,978.0 C410.0,979.7 404.8,982.5 402.0,983.0 C399.2,983.5 395.3,981.3 394.0,981.0" style="stroke-width:2.5;"/>
<path class="d" d="M274.4,1024.4 C278.7,1026.1 289.1,1030.8 300.0,1034.4 C310.9,1038.0 326.7,1041.7 340.0,1046.0 C353.3,1050.3 369.3,1058.3 380.0,1060.0 C390.7,1061.7 394.3,1058.4 404.0,1056.4 C413.7,1054.4 432.7,1049.4 438.4,1048.0" style="stroke-width:2;stroke-dasharray:5 2.5"/>
<path class="d" d="M438.4,1048.0 C437.3,1043.3 433.7,1028.0 432.0,1020.0 C430.3,1012.0 428.7,1003.3 428.0,1000.0" style="stroke-width:2;stroke-dasharray:5 2.5"/>
<path class="d" d="M384.0,1012.4 C386.0,1014.3 392.7,1016.7 396.0,1024.0 C399.3,1031.3 402.7,1051.0 404.0,1056.4" style="stroke-width:2;stroke-dasharray:5 2.5"/>
<path class="d" d="M400.0,1033.0 L434.0,1024.4" style="stroke-width:2;stroke-dasharray:5 2.5"/>
<path class="d" d="M306.0,984.0 L306.0,1036.0" style="stroke-width:2;stroke-dasharray:5 2.5"/>
<path class="d" d="M274.0,1006.0 C280.3,1005.7 301.0,1001.7 312.0,1004.0 C323.0,1006.3 331.0,1014.7 340.0,1020.0 C349.0,1025.3 356.0,1033.6 366.0,1036.0 C376.0,1038.4 394.3,1034.7 400.0,1034.4" style="stroke-width:2;stroke-dasharray:5 2.5"/>
<path class="l" d="M283.7,971.6 C285.0,970.9 288.9,968.2 291.7,967.3 C294.4,966.3 296.7,965.7 300.3,965.8 C303.9,966.0 309.2,966.7 313.3,968.0 C317.4,969.3 320.1,971.1 324.9,973.8 C329.7,976.4 335.1,980.3 342.2,983.9 C349.3,987.5 360.3,994.2 367.5,995.4 C374.7,996.6 380.8,991.3 385.5,991.1 C390.2,990.9 394.2,992.2 395.6,994.0 C397.1,995.8 397.1,999.9 394.2,1001.9 C391.3,1004.0 382.4,1005.4 378.3,1006.3 C374.2,1007.1 371.1,1006.9 369.6,1007.0" style="stroke-width:3;"/>
<path class="l" d="M293.8,978.8 C298.3,979.9 312.5,982.3 320.5,985.3 C328.6,988.3 335.0,992.9 342.2,996.9 C349.4,1000.8 360.3,1007.1 363.9,1009.2" style="stroke-width:5;"/>
<path class="d" d="M288.8,973.8 C291.1,973.8 297.2,972.9 302.5,973.8 C307.8,974.6 313.9,976.2 320.5,978.8 C327.2,981.5 334.7,985.8 342.2,989.7 C349.7,993.5 361.5,999.9 365.3,1001.9" style="stroke-width:2;stroke-width:7;stroke-dasharray:3.5 2.5"/>
<path class="l" d="M349.4,982.4 L360.3,995.4" />
<path class="l" d="M274.0,930.0 L273.0,962.0" />
<path class="d" d="M213.7,1060.0 C213.6,1062.8 215.1,1069.7 213.3,1076.7 C211.6,1083.6 206.9,1096.0 203.3,1101.7 C199.7,1107.4 193.6,1109.3 191.7,1110.8" style="stroke-width:2;stroke-dasharray:5 2.5"/>
<path class="d" d="M256.7,1060.0 C256.4,1062.8 256.1,1069.7 255.0,1076.7 C253.9,1083.6 253.1,1093.9 250.0,1101.7 C246.9,1109.4 242.2,1115.8 236.7,1123.3 C231.1,1130.8 220.0,1142.8 216.7,1146.7" style="stroke-width:2;stroke-dasharray:5 2.5"/>
<path class="d" d="M214.2,1071.7 C217.4,1072.4 226.5,1076.2 233.3,1076.2 C240.2,1076.2 251.7,1072.4 255.3,1071.7" style="stroke-width:2;stroke-dasharray:5 2.5"/>
<path class="l" d="M157.5,1131.7 C157.9,1129.4 157.9,1121.9 160.0,1118.3 C162.1,1114.7 166.7,1111.6 170.0,1110.0 C173.3,1108.4 175.0,1108.1 180.0,1108.7 C185.0,1109.3 194.2,1110.1 200.0,1113.7 C205.8,1117.2 212.2,1124.5 215.0,1130.0 C217.8,1135.5 217.2,1141.1 217.0,1146.7 C216.8,1152.2 216.5,1158.8 213.7,1163.3 C210.8,1167.9 204.5,1172.7 200.0,1174.2 C195.5,1175.6 190.0,1173.2 186.7,1172.0 C183.3,1170.8 181.1,1167.6 180.0,1166.7" style="stroke-width:2.5;"/>
<path class="l" d="M183.3,1170.8 C186.1,1171.6 195.5,1176.0 200.0,1175.3 C204.5,1174.6 208.6,1168.1 210.3,1166.7" style="stroke-width:4.5;"/>
<path class="l" d="M157.5,1133.3 C159.9,1131.8 167.4,1125.2 171.7,1124.2 C176.0,1123.1 179.7,1124.6 183.3,1127.0 C186.9,1129.4 191.3,1134.2 193.3,1138.3 C195.3,1142.4 195.8,1147.2 195.3,1151.7 C194.8,1156.1 192.8,1161.9 190.3,1165.0 C187.9,1168.1 182.4,1169.2 180.8,1170.0" style="stroke-width:2.5;"/>
<path class="d" d="M173.3,1113.3 C176.4,1114.4 186.7,1116.4 191.7,1120.0 C196.7,1123.6 200.6,1129.4 203.3,1135.0 C206.1,1140.6 207.5,1150.3 208.3,1153.3" style="stroke-width:2;stroke-dasharray:4 3;stroke-width:3"/>
<path class="d" d="M183.3,1111.7 C186.1,1113.3 195.3,1116.9 200.0,1121.7 C204.7,1126.4 209.4,1134.2 211.7,1140.0 C213.9,1145.8 213.1,1153.9 213.3,1156.7" style="stroke-width:2;stroke-dasharray:4 3;stroke-width:2.5"/>
<path class="d" d="M106.7,1168.3 L157.5,1135.0" style="stroke-width:2;stroke-dasharray:5 2.5;stroke-width:2.5"/>
<path class="d" d="M127.0,1205.0 L180.8,1170.0" style="stroke-width:2;stroke-dasharray:5 2.5;stroke-width:2.5"/>
<ellipse class="l" cx="87.0" cy="1200.0" rx="38.0" ry="52.0" transform="rotate(-28.0 87.0 1200.0)" style="stroke-width:2.2;fill:none;"/>
<path class="l" d="M61.3,1155.8 L63.8,1154.2 L66.6,1152.9 L69.5,1151.9 L72.5,1151.2 L75.6,1150.8 L78.8,1150.8 L82.0,1151.0 L85.3,1151.6 L88.7,1152.4 L92.0,1153.6 L95.3,1155.1 L98.5,1156.8 L101.7,1158.9 L104.8,1161.1 L107.8,1163.7 L110.7,1166.5 L113.4,1169.5 L116.0,1172.6 L118.4,1176.0 L120.6,1179.5 L122.6,1183.2 L124.4,1186.9 L125.9,1190.8 L127.2,1194.7 L128.3,1198.6 L129.1,1202.5 L129.7,1206.4 L129.9,1210.3 L130.0,1214.1 L129.7,1217.9 L129.2,1221.5 L128.5,1225.0 L127.4,1228.3 L126.2,1231.4 L124.7,1234.3 L122.9,1237.0" style="stroke-width:3.5;"/>
<path class="l" d="M71.7,1190.0 C72.8,1188.7 75.8,1183.4 78.3,1182.0 C80.8,1180.6 83.1,1179.2 86.7,1181.7 C90.3,1184.1 97.8,1194.2 100.0,1196.7" style="stroke-width:2.5;"/>
<ellipse class="l" cx="70.0" cy="1235.0" rx="7.5" ry="8.5" transform="rotate(0.0 70.0 1235.0)" style="stroke-width:2.5;fill:none;"/>
<ellipse class="l" cx="70.0" cy="1235.0" rx="3.5" ry="4.0" transform="rotate(0.0 70.0 1235.0)" style="stroke-width:3;fill:none;"/>
<path class="d" d="M80.0,1235.0 L102.0,1221.3" style="stroke-width:2;stroke-dasharray:5 2.5"/>
<path class="l" d="M13.3,1214.2 C13.9,1213.4 13.3,1209.5 16.7,1209.7 C20.0,1209.8 30.3,1212.9 33.3,1215.0 C36.4,1217.1 38.1,1221.5 35.0,1222.0 C31.9,1222.5 18.6,1219.3 15.0,1218.0 C11.4,1216.7 13.6,1214.8 13.3,1214.2" style="stroke-width:3;"/>
<path class="d" d="M30.0,1224.2 C30.6,1227.1 30.0,1237.1 33.3,1241.7 C36.7,1246.2 45.8,1250.6 50.0,1251.7 C54.2,1252.8 56.9,1248.9 58.3,1248.3" style="stroke-width:2;stroke-dasharray:5 2.5;stroke-width:2.5"/>
<path class="l" d="M58.3,1248.3 L70.0,1242.5" />
<path class="d" d="M36.7,1214.2 L71.7,1191.7" style="stroke-width:2;stroke-dasharray:5 2.5"/>
<path class="d" d="M43.3,1218.3 L58.3,1233.3" style="stroke-width:2;stroke-dasharray:5 2.5"/>
<path d="M1246.0,743.5 L1250.4,728.6 L1253.2,731.7 L1257.2,732.8 Z" fill="#000"/>
<path class="l" d="M1203.2,678.1 C1201.2,679.3 1194.1,682.6 1191.1,685.1 C1188.2,687.6 1186.3,690.5 1185.6,693.2 C1184.8,695.9 1186.4,699.9 1186.6,701.2" style="stroke-width:3;"/>
<path class="d" d="M1204.7,677.6 L1221.3,679.1" style="stroke-width:2;stroke-dasharray:5 2.5;stroke-width:2.5"/>
<path class="l" d="M1221.3,678.6 C1222.2,679.8 1226.3,683.9 1226.8,686.1 C1227.3,688.4 1225.8,690.5 1224.3,692.2 C1222.9,693.8 1220.0,694.9 1218.3,696.2 C1216.6,697.4 1214.9,699.1 1214.3,699.7" style="stroke-width:3;"/>
<path class="d" d="M1186.6,701.2 C1189.7,701.7 1200.6,704.5 1205.2,704.2 C1209.8,704.0 1212.8,700.5 1214.3,699.7" style="stroke-width:2;stroke-dasharray:5 2.5;stroke-width:2.5"/>
<path class="l" d="M1186.6,701.2 L1191.1,713.3" style="stroke-width:2.5;"/>
<path class="l" d="M1226.8,686.1 L1231.4,701.2" style="stroke-width:2.5;"/>
<path class="d" d="M1191.0,712.9 L1209.8,771.3" style="stroke-width:2;stroke-dasharray:5 2.5"/>
<path class="d" d="M1232.1,701.7 L1247.4,743.5 L1266.9,807.5 L1275.2,837.0" style="stroke-width:2;stroke-dasharray:5 2.5"/>
<path class="l" d="M1209.8,771.3 C1207.7,773.6 1199.9,781.0 1197.3,785.2 C1194.8,789.4 1193.6,790.3 1194.5,796.3 C1195.4,802.4 1199.2,814.6 1202.9,821.4 C1206.6,828.2 1214.5,834.4 1216.8,837.0" style="stroke-width:2.2;"/>
<path class="d" d="M1211.2,776.9 C1209.8,778.7 1204.0,784.3 1202.9,788.0 C1201.7,791.7 1203.1,794.0 1204.3,799.1 C1205.4,804.2 1206.3,812.3 1209.8,818.6 C1213.3,824.9 1222.6,833.9 1225.1,837.0" style="stroke-width:2;stroke-dasharray:5 2.5"/>
<path class="d" d="M1216.8,800.5 C1218.2,804.5 1222.8,818.1 1225.1,824.2 C1227.4,830.2 1229.8,834.8 1230.7,837.0" style="stroke-width:2;stroke-dasharray:5 2.5"/>
<path class="d" d="M1209.8,818.6 L1222.3,810.3" style="stroke-width:2;stroke-dasharray:5 2.5"/>
<path class="d" d="M1266.9,807.5 C1270.6,808.6 1281.2,809.5 1289.1,814.4 C1297.0,819.3 1310.0,833.2 1314.2,837.0" style="stroke-width:2;stroke-dasharray:5 2.5"/>
<path class="d" d="M1225.0,826.7 C1227.5,833.3 1235.8,858.1 1240.0,866.7 C1244.2,875.3 1246.1,876.0 1250.0,878.3 C1253.9,880.7 1258.3,881.7 1263.3,880.8 C1268.3,880.0 1276.4,876.5 1280.0,873.3 C1283.6,870.1 1286.1,870.6 1285.0,861.7 C1283.9,852.8 1275.3,826.9 1273.3,820.0" style="stroke-width:2;stroke-dasharray:5 2.5"/>
<path class="d" d="M1223.3,836.7 C1222.2,839.2 1220.0,848.9 1216.7,851.7 C1213.3,854.4 1206.9,851.7 1203.3,853.3 C1199.7,855.0 1196.9,856.1 1195.0,861.7 C1193.1,867.2 1192.8,874.2 1191.7,886.7 C1190.6,899.2 1188.3,926.1 1188.3,936.7 C1188.3,947.2 1189.2,946.7 1191.7,950.0 C1194.2,953.3 1197.5,956.4 1203.3,956.7 C1209.2,956.9 1221.7,951.9 1226.7,951.7 C1231.7,951.4 1231.9,952.5 1233.3,955.0 C1234.7,957.5 1234.7,964.7 1235.0,966.7" style="stroke-width:2;stroke-dasharray:5 2.5;stroke-width:2.5"/>
<path class="d" d="M1235.0,966.7 C1229.7,969.2 1209.4,977.2 1203.3,981.7 C1197.2,986.1 1198.3,989.7 1198.3,993.3 C1198.3,996.9 1199.7,1000.3 1203.3,1003.3 C1206.9,1006.4 1213.6,1009.4 1220.0,1011.7 C1226.4,1013.9 1234.4,1016.0 1241.7,1017.0 C1248.9,1018.0 1258.3,1018.8 1263.3,1017.5 C1268.3,1016.2 1270.3,1010.6 1271.7,1009.2" style="stroke-width:2;stroke-dasharray:5 2.5;stroke-width:2.5"/>
<path class="d" d="M1205.0,856.7 C1204.4,864.4 1202.8,887.8 1201.7,903.3 C1200.6,918.9 1198.9,942.2 1198.3,950.0" style="stroke-width:2;stroke-dasharray:5 2.5"/>
<path class="d" d="M1216.7,853.3 C1216.1,861.7 1212.8,891.7 1213.3,903.3 C1213.9,915.0 1216.7,915.6 1220.0,923.3 C1223.3,931.1 1231.1,945.6 1233.3,950.0" style="stroke-width:2;stroke-dasharray:5 2.5"/>
<path class="d" d="M1191.7,901.7 L1270.0,898.3" style="stroke-width:2;stroke-dasharray:5 2.5"/>
<path class="d" d="M1300.0,820.0 C1302.2,822.5 1309.4,831.9 1313.3,835.0 C1317.2,838.1 1318.6,835.8 1323.3,838.3 C1328.1,840.8 1337.2,845.3 1341.7,850.0 C1346.1,854.7 1348.6,860.6 1350.0,866.7 C1351.4,872.8 1351.7,877.8 1350.0,886.7 C1348.3,895.6 1341.7,914.4 1340.0,920.0" style="stroke-width:2;stroke-dasharray:5 2.5"/>
<path class="d" d="M1323.3,838.3 C1323.3,842.5 1324.4,857.2 1323.3,863.3 C1322.2,869.4 1318.9,873.1 1316.7,875.0 C1314.4,876.9 1312.2,872.5 1310.0,875.0 C1307.8,877.5 1305.6,886.4 1303.3,890.0 C1301.1,893.6 1297.8,895.6 1296.7,896.7" style="stroke-width:2;stroke-dasharray:5 2.5"/>
<path class="d" d="M1316.7,866.7 C1320.0,867.2 1332.2,867.2 1336.7,870.0 C1341.1,872.8 1341.9,878.9 1343.3,883.3 C1344.7,887.8 1344.7,894.4 1345.0,896.7" style="stroke-width:2;stroke-dasharray:5 2.5"/>
<path class="l" d="M1270.0,896.7 C1271.4,895.7 1275.0,891.9 1278.3,890.8 C1281.7,889.7 1287.4,889.0 1290.0,890.0 C1292.6,891.0 1293.9,888.9 1293.7,896.7 C1293.4,904.4 1290.1,921.7 1288.3,936.7 C1286.6,951.7 1284.2,978.3 1283.3,986.7" style="stroke-width:4.5;"/>
<path class="l" d="M1270.0,896.7 C1268.9,903.3 1265.6,922.8 1263.3,936.7 C1261.1,950.6 1257.8,972.8 1256.7,980.0" style="stroke-width:4;"/>
<path class="l" d="M1256.7,980.0 C1256.4,980.8 1253.9,983.6 1255.0,985.0 C1256.1,986.4 1259.7,988.3 1263.3,988.7 C1266.9,989.0 1273.3,988.2 1276.7,987.0 C1280.0,985.8 1282.2,982.6 1283.3,981.7" style="stroke-width:4;"/>
<g>
<path class="d" d="M1270.1,906.7 L1289.0,906.7" style="stroke-width:2;stroke-dasharray:4 3;stroke-width:2.5"/>
<path class="d" d="M1268.5,916.7 L1288.0,916.7" style="stroke-width:2;stroke-dasharray:4 3;stroke-width:2.5"/>
<path class="d" d="M1266.9,926.7 L1287.0,926.7" style="stroke-width:2;stroke-dasharray:4 3;stroke-width:2.5"/>
<path class="d" d="M1265.3,936.7 L1286.0,936.7" style="stroke-width:2;stroke-dasharray:4 3;stroke-width:2.5"/>
<path class="d" d="M1263.7,946.7 L1285.0,946.7" style="stroke-width:2;stroke-dasharray:4 3;stroke-width:2.5"/>
<path class="d" d="M1262.1,956.7 L1284.0,956.7" style="stroke-width:2;stroke-dasharray:4 3;stroke-width:2.5"/>
<path class="d" d="M1260.5,966.7 L1283.0,966.7" style="stroke-width:2;stroke-dasharray:4 3;stroke-width:2.5"/>
<path class="d" d="M1258.9,976.7 L1282.0,976.7" style="stroke-width:2;stroke-dasharray:4 3;stroke-width:2.5"/>
</g>
<path class="d" d="M1296.7,896.7 C1298.9,896.4 1305.0,893.6 1310.0,895.0 C1315.0,896.4 1324.4,898.1 1326.7,905.0 C1328.9,911.9 1324.4,925.8 1323.3,936.7 C1322.2,947.5 1321.9,960.3 1320.0,970.0 C1318.1,979.7 1313.1,990.8 1311.7,995.0" style="stroke-width:2;stroke-dasharray:5 2.5"/>
<path class="d" d="M1296.7,896.7 C1296.1,903.3 1294.4,921.7 1293.3,936.7 C1292.2,951.7 1291.1,975.0 1290.0,986.7 C1288.9,998.3 1287.2,1003.3 1286.7,1006.7" style="stroke-width:2;stroke-dasharray:5 2.5"/>
<path class="d" d="M1304.2,894.2 C1303.5,901.2 1301.2,921.2 1300.0,936.7 C1298.8,952.1 1297.5,978.3 1297.0,986.7" style="stroke-width:2;stroke-dasharray:5 2.5"/>
<path class="d" d="M1200.0,988.3 C1205.8,985.0 1225.6,970.3 1235.0,968.3 C1244.4,966.4 1253.1,975.3 1256.7,976.7" style="stroke-width:2;stroke-dasharray:5 2.5"/>
<ellipse class="d" cx="1230.0" cy="990.8" rx="11.0" ry="5.0" transform="rotate(0.0 1230.0 990.8)" style="stroke-width:2.5;fill:none;stroke-dasharray:5 2.5"/>
<path class="d" d="M1273.3,1003.3 C1275.6,1003.9 1282.8,1004.8 1286.7,1007.0 C1290.6,1009.2 1294.4,1012.5 1296.7,1016.7 C1298.9,1020.8 1299.4,1029.4 1300.0,1032.0" style="stroke-width:2;stroke-dasharray:5 2.5"/>
<path class="d" d="M1311.7,995.0 C1311.7,999.2 1313.1,1013.8 1311.7,1020.0 C1310.3,1026.2 1304.7,1030.0 1303.3,1032.0" style="stroke-width:2;stroke-dasharray:5 2.5"/>
<path class="d" d="M1276.7,1003.3 C1277.2,1000.6 1276.7,989.7 1280.0,986.7 C1283.3,983.6 1291.4,983.6 1296.7,985.0 C1301.9,986.4 1309.2,993.3 1311.7,995.0" style="stroke-width:2;stroke-dasharray:5 2.5"/>
<path class="d" d="M1326.7,905.0 C1326.1,915.8 1325.0,948.8 1323.3,970.0 C1321.7,991.2 1317.8,1021.7 1316.7,1032.0" style="stroke-width:2;stroke-dasharray:5 2.5"/>
<path class="d" d="M1340.0,920.0 C1338.9,925.6 1335.6,940.8 1333.3,953.3 C1331.1,965.8 1324.4,989.4 1326.7,995.0 C1328.9,1000.6 1343.3,988.1 1346.7,986.7" style="stroke-width:2;stroke-dasharray:5 2.5"/>
<path class="l" d="M1336.7,929.2 C1338.9,929.0 1344.4,926.5 1350.0,928.3 C1355.6,930.1 1365.3,934.4 1370.0,940.0 C1374.7,945.6 1376.9,955.3 1378.3,961.7 C1379.7,968.1 1379.7,973.3 1378.3,978.3 C1376.9,983.3 1373.6,988.8 1370.0,991.7 C1366.4,994.5 1360.8,995.9 1356.7,995.3 C1352.5,994.8 1346.9,989.5 1345.0,988.3" style="stroke-width:2.5;"/>
<path class="l" d="M1335.0,945.0 C1337.5,944.7 1345.3,941.4 1350.0,943.3 C1354.7,945.3 1360.8,950.8 1363.3,956.7 C1365.9,962.5 1366.4,973.6 1365.3,978.3 C1364.2,983.1 1358.1,984.2 1356.7,985.3" style="stroke-width:2.5;"/>
<path class="l" d="M1333.3,954.2 C1335.3,955.4 1342.7,957.6 1345.0,961.7 C1347.3,965.7 1347.3,973.3 1347.0,978.3 C1346.7,983.3 1343.9,989.4 1343.3,991.7" />
<path class="l" d="M1338.3,935.0 C1340.8,935.3 1348.6,934.4 1353.3,936.7 C1358.1,938.9 1364.4,946.4 1366.7,948.3" />
<path class="l" d="M1346.7,985.0 C1347.8,986.4 1349.4,992.2 1353.3,993.3 C1357.2,994.4 1365.8,994.2 1370.0,991.7 C1374.2,989.2 1376.9,980.6 1378.3,978.3" style="stroke-width:3.5;"/>
<path class="d" d="M1288.3,1015.0 C1289.4,1018.6 1292.9,1032.4 1295.0,1036.7 C1297.1,1040.9 1298.8,1040.0 1300.8,1040.3 C1302.9,1040.7 1304.9,1041.2 1307.5,1038.7 C1310.1,1036.1 1314.3,1030.1 1316.7,1025.0 C1319.0,1019.9 1320.8,1011.1 1321.7,1008.3" style="stroke-width:2;stroke-dasharray:5 2.5;stroke-width:2.5"/>
<path class="d" d="M1271.7,1003.3 C1274.4,1003.9 1283.3,1004.7 1288.3,1006.7 C1293.3,1008.6 1297.4,1016.7 1301.7,1015.0 C1306.0,1013.3 1312.1,999.7 1314.2,996.7" style="stroke-width:2;stroke-dasharray:5 2.5"/>
<path class="d" d="M1362.7,932.2 L1486.3,870.9" style="stroke-width:2;stroke-dasharray:5 2.5;stroke-width:2.5"/>
<path class="l" d="M1486.3,870.9 C1488.1,871.1 1493.7,870.6 1496.8,872.1 C1500.0,873.5 1502.9,876.7 1505.0,879.7 C1507.1,882.7 1508.9,886.3 1509.7,890.2 C1510.5,894.1 1510.5,899.9 1509.9,903.0 C1509.3,906.1 1506.8,907.9 1506.2,908.8" style="stroke-width:2.5;"/>
<path class="d" d="M1506.2,908.8 L1381.3,969.5" style="stroke-width:2;stroke-dasharray:5 2.5;stroke-width:2.5"/>
<ellipse class="l" cx="1503.8" cy="899.5" rx="4.5" ry="6.5" transform="rotate(0.0 1503.8 899.5)" style="stroke-width:2.5;fill:none;"/>
<path class="d" d="M1492.2,889.0 L1540.0,863.3" style="stroke-width:2;stroke-dasharray:5 2.5"/>
<path class="l" d="M1195.0,785.0 L1204.2,785.0" style="stroke-width:2.5;"/>
<path class="l" d="M1194.6,797.1 L1202.1,797.7" style="stroke-width:2.5;"/>
<path class="l" d="M1219.2,800.8 L1230.0,831.7" style="stroke-width:2.5;"/>
<path class="l" d="M1222.5,810.0 L1210.0,820.0" />
<path class="l" d="M1209.2,818.3 C1209.6,819.6 1210.1,823.9 1211.7,825.8 C1213.2,827.8 1215.8,830.3 1218.3,830.0 C1220.8,829.7 1225.3,825.1 1226.7,824.2" />
<path class="l" d="M1259.2,787.5 L1266.7,808.3" style="stroke-width:2.5;"/>
<path class="l" d="M1266.7,808.3 L1280.0,811.7" style="stroke-width:2.5;"/>
<path d="M1122.2,381.3 C1124.1,381.0 1130.7,378.2 1133.8,379.1 C1136.9,380.0 1138.8,383.9 1140.9,386.7 C1143.0,389.4 1146.1,392.6 1146.2,395.6 C1146.4,398.5 1144.3,402.5 1141.8,404.4 C1139.3,406.4 1134.7,406.8 1131.1,407.1 C1127.6,407.4 1123.0,407.9 1120.4,406.2 C1117.9,404.6 1116.4,400.3 1116.0,397.3 C1115.6,394.4 1116.7,391.1 1117.8,388.4 C1118.8,385.8 1121.5,382.5 1122.2,381.3" style="fill:#000;stroke:none"/>
<path d="M1129.3,394.7 C1130.4,393.9 1133.9,391.0 1135.6,390.2 C1137.2,389.5 1139.1,389.3 1139.1,390.2 C1139.1,391.1 1136.4,393.5 1135.6,395.6 C1134.7,397.6 1134.7,401.6 1133.8,402.7 C1132.9,403.7 1131.0,403.1 1130.2,401.8 C1129.5,400.4 1129.5,395.9 1129.3,394.7" style="fill:#fff;stroke:none"/>
<path d="M1142.7,390.2 C1144.4,390.5 1150.8,390.8 1153.3,392.0 C1155.9,393.2 1157.8,395.7 1157.8,397.3 C1157.8,399.0 1155.3,401.2 1153.3,401.8 C1151.4,402.4 1148.0,401.9 1146.2,400.9 C1144.4,399.9 1143.3,397.3 1142.7,395.6 C1142.1,393.8 1142.7,391.1 1142.7,390.2" style="fill:#000;stroke:none"/>
<g style="font-family:'Liberation Serif',serif;font-size:39px;opacity:0.8">
<text x="1640" y="1257" fill="#5a7ccc">m</text>
<text x="1671" y="1257" fill="#4caf50">o</text>
<text x="1690" y="1257" fill="#ec74b4">t</text>
<text x="1702" y="1257" fill="#2ea84a">o</text>
<text x="1722" y="1257" fill="#ee5a26">r</text>
<text x="1736" y="1257" fill="#f3a629">u</text>
<text x="1756" y="1257" fill="#f2cc2a">f</text>
</g>
<text x="1769" y="1256.5" style="font-family:'Liberation Serif',serif;font-size:18px;fill:#4d4a35">.de</text>
</svg>
</body></html>
